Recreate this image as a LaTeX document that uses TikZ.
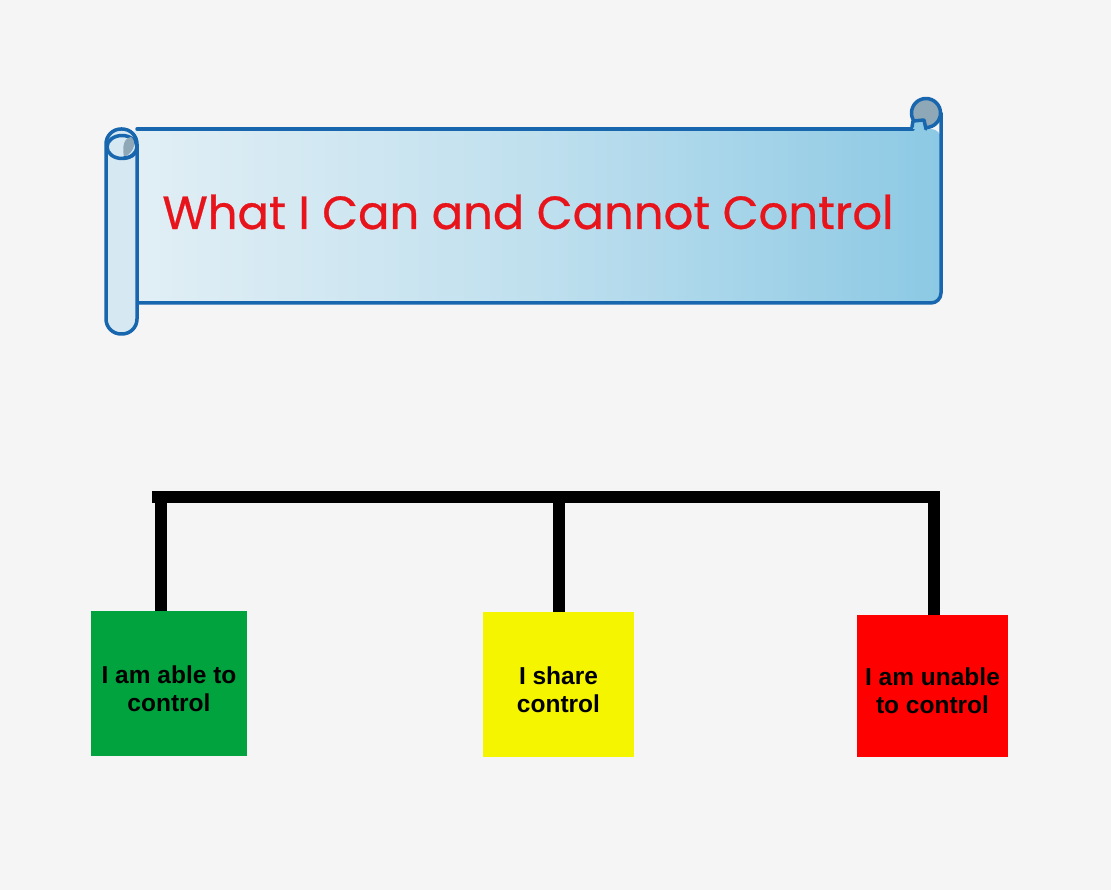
\documentclass[tikz,border=0pt]{standalone}
\usepackage{fontspec}
\setmainfont{Liberation Sans}
\newfontfamily\titlefont[FakeBold=0.6]{Poppins}
\usetikzlibrary{shapes.geometric}
\definecolor{bg}{HTML}{F5F5F5}
\definecolor{scrollblue}{HTML}{1766AE}
\definecolor{scrollL}{HTML}{E2EFF5}
\definecolor{scrollR}{HTML}{8CC9E4}
\definecolor{tubefill}{HTML}{D6E8F1}
\definecolor{curlgray}{HTML}{8FA8B8}
\definecolor{titlered}{HTML}{E8141C}
\definecolor{boxgreen}{HTML}{00A33D}
\definecolor{boxyellow}{HTML}{F5F500}
\definecolor{boxred}{HTML}{FF0000}
\tikzset{
  outline/.style={draw=scrollblue, line width=3.5pt, line join=round, line cap=round},
  catbox/.style={minimum width=#1, minimum height=145pt, inner sep=0pt},
  cattext/.style={inner sep=0pt, align=center,
     font=\fontsize{24.5}{28}\selectfont\bfseries, text=black},
  bar/.style={line width=12pt, draw=black, line cap=butt}
}
\begin{document}
\begin{tikzpicture}[x=1pt,y=-1pt]
\useasboundingbox[fill=bg] (0,0) rectangle (1111,890);
% banner body
\path[left color=scrollL, right color=scrollR, middle color=scrollL!60!scrollR, rounded corners=10pt]
  (130,129) -- (941,129) -- (941,303) -- (130,303) -- cycle;
\draw[outline] (137,129) -- (913,129);
\draw[outline, rounded corners=10pt] (941,113) -- (941,303) -- (137,303);
% left tube
\draw[outline, fill=tubefill, rounded corners=15pt] (106,129) rectangle (137,334);
\draw[outline, fill=tubefill] (122,147) ellipse[x radius=15, y radius=11.5];
\fill[curlgray] (124,157) .. controls (122,146) and (124,138) .. (131,137) .. controls (136,140) and (136,152) .. (124,157) -- cycle;
\draw[outline] (137,147) .. controls (137,155) and (130,158) .. (124,158);
% right curl
\draw[outline, fill=curlgray] (926,113) circle[radius=14.5];
\fill[scrollR] (913,121) -- (925,121) -- (926,129) -- (913,129) -- cycle;
\draw[outline] (912,127) -- (913,121) -- (924,120) -- (926,129);
% title
\node[text=titlered, font=\titlefont\fontsize{46.5}{52}\selectfont] (title) at (528,212) {What I Can and Cannot Control};
% boxes
\node[catbox=156pt, fill=boxgreen] (able) at (169,683.5) {};
\node[catbox=151pt, fill=boxyellow] (share) at (558.5,684.5) {};
\node[catbox=151pt, minimum height=142pt, fill=boxred] (unable) at (932.5,686) {};
\node[cattext] (ableT) at ([yshift=-5pt]able.center) {I am able to\\control};
\node[cattext] (shareT) at ([yshift=-5pt]share.center) {I share\\control};
\node[cattext] (unableT) at ([yshift=-5pt]unable.center) {I am unable\\to control};
% connectors
\coordinate (barL) at (152,497);
\coordinate (barR) at (940,497);
\draw[bar] (barL) -- (barR);
\draw[bar] ([xshift=-8pt]able.north) -- ([xshift=-8pt]able.north |- barL);
\draw[bar] (share.north) -- (share.north |- barL);
\draw[bar] ([xshift=1.5pt]unable.north) -- ([xshift=1.5pt]unable.north |- barL);
\end{tikzpicture}
\end{document}
